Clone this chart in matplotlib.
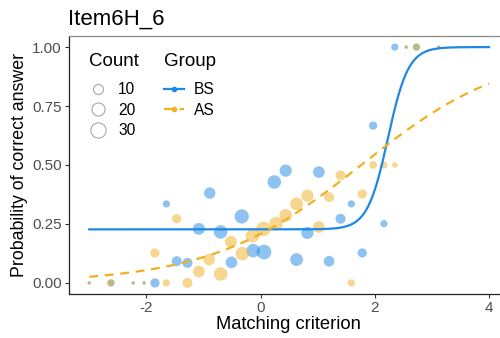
import numpy as np
import matplotlib
matplotlib.use("Agg")
import matplotlib.pyplot as plt
from matplotlib.lines import Line2D

plt.rcParams['font.family'] = ['Liberation Sans', 'DejaVu Sans']

# ---- data ----
bs_x = [-3.0, -2.62, -2.23, -2.04, -1.85, -1.65, -1.47, -1.28, -1.08, -0.89, -0.70, -0.51, -0.33, -0.13,
        0.06, 0.24, 0.44, 0.63, 0.82, 1.02, 1.20, 1.40, 1.59, 1.78, 1.97, 2.16, 2.35, 2.55, 2.73, 3.12]
bs_y = [0.0, 0.0, 0.0, 0.0, 0.0, 0.335, 0.092, 0.085, 0.229, 0.381, 0.216, 0.087, 0.282, 0.137,
        0.131, 0.428, 0.476, 0.099, 0.212, 0.470, 0.092, 0.272, 0.335, 0.127, 0.667, 0.251, 1.0, 1.0, 1.0, 1.0]
bs_n = [1, 4, 1, 1, 8, 4, 10, 10, 16, 14, 22, 15, 25, 22,
        27, 22, 17, 19, 17, 15, 12, 10, 4, 8, 6, 4, 4, 1, 4, 1]

as_x = [-3.0, -2.62, -2.23, -2.04, -1.85, -1.65, -1.47, -1.28, -1.08, -0.90, -0.70, -0.52, -0.32, -0.14,
        0.05, 0.27, 0.44, 0.63, 0.82, 1.02, 1.20, 1.40, 1.59, 1.78, 1.97, 2.16, 2.35, 2.55, 2.73, 3.12]
as_y = [0.0, 0.0, 0.0, 0.0, 0.127, 0.0, 0.272, 0.0, 0.048, 0.099, 0.038, 0.174, 0.124, 0.200,
        0.229, 0.251, 0.286, 0.335, 0.370, 0.237, 0.364, 0.456, 0.0, 0.377, 0.5, 0.5, 0.5, 1.0, 1.0, 1.0]
as_n = [1, 4, 1, 1, 8, 4, 8, 10, 15, 15, 22, 16, 22, 22,
        26, 22, 19, 19, 17, 15, 10, 10, 4, 8, 5, 4, 2, 1, 4, 1]

# fitted item curves (3PL for BS, 2PL for AS)
bs_a, bs_b, bs_c = 5.58, 2.23, 0.227
as_a, as_b, as_c = 0.76, 1.76, 0.0
curve_range = (-3.0, 4.0)

groups = ['BS', 'AS']
count_breaks = [10, 20, 30]
x_ticks = [-2, 0, 2, 4]
y_ticks = [0.0, 0.25, 0.5, 0.75, 1.0]
y_ticklabels = ['0.00', '0.25', '0.50', '0.75', '1.00']

BLUE = '#1E88E5'
ORANGE = '#F0B020'

DPI = 100
def diam_px(n):
    n = np.asarray(n, dtype=float)
    return 3.4 + 12.3 * np.sqrt(np.clip((n - 1) / 31.0, 0, None))

def s_area(n):
    return (diam_px(n) * 72.0 / DPI) ** 2

fig = plt.figure(figsize=(5.0, 3.38), dpi=DPI)
L, R, B, T = 68.7, 509.0, 294.0, 36.0
W, H = 500.0, 338.0
ax = fig.add_axes([L / W, (H - B) / H, (R - L) / W, (B - T) / H])

ax.scatter(bs_x, bs_y, s=s_area(bs_n), color=BLUE, alpha=0.5, linewidths=0, zorder=2)
ax.scatter(as_x, as_y, s=s_area(as_n), color=ORANGE, alpha=0.5, linewidths=0, zorder=2)

xs = np.linspace(curve_range[0], curve_range[1], 400)
p_bs = bs_c + (1 - bs_c) / (1 + np.exp(-bs_a * (xs - bs_b)))
p_as = as_c + (1 - as_c) / (1 + np.exp(-as_a * (xs - as_b)))
ax.plot(xs, p_bs, color=BLUE, lw=1.6, zorder=3)
ax.plot(xs, p_as, color=ORANGE, lw=1.6, ls=(0, (4, 3)), zorder=3)

ax.set_xlim(-3.36, 4.35)
ax.set_ylim(-0.047, 1.047)
ax.set_xticks(x_ticks)
ax.set_xticklabels([str(t) for t in x_ticks])
ax.set_yticks(y_ticks)
ax.set_yticklabels(y_ticklabels)
ax.tick_params(axis='both', labelsize=11, labelcolor='#4D4D4D', color='#333333',
               length=3, width=0.8, pad=2)
for sp in ['left', 'bottom']:
    ax.spines[sp].set_color('#222222')
    ax.spines[sp].set_linewidth(0.9)
for sp in ['top', 'right']:
    ax.spines[sp].set_color('#8C8C8C')
    ax.spines[sp].set_linewidth(0.9)

ax.set_xlabel('Matching criterion', fontsize=13.2, labelpad=1)
ax.set_ylabel('Probability of correct answer', fontsize=12.8, labelpad=3)
fig.text(68.5 / W, 1 - 25 / H, 'Item6H_6', fontsize=16, ha='left', va='baseline')

# legends
cnt_handles = [Line2D([], [], ls='', marker='o', markersize=float(diam_px(n)) * 72 / DPI,
                      mfc='white', mec='#A8A8A8', mew=0.8) for n in count_breaks]
leg1 = ax.legend(cnt_handles, [str(n) for n in count_breaks], title='Count',
                 loc='upper left', bbox_to_anchor=(0.045, 0.935), frameon=False,
                 fontsize=11.2, title_fontsize=13.5, handletextpad=0.7, labelspacing=0.35,
                 borderpad=0, handlelength=1.2, borderaxespad=0)
leg1._legend_box.align = 'left'
leg1._legend_box.sep = 9
ax.add_artist(leg1)

grp_handles = [Line2D([], [], color=BLUE, lw=1.6, marker='o', ms=3),
               Line2D([], [], color=ORANGE, lw=1.6, ls=(0, (4, 3)), marker='o', ms=3)]
leg2 = ax.legend(grp_handles, groups, title='Group',
                 loc='upper left', bbox_to_anchor=(0.217, 0.935), frameon=False,
                 fontsize=11.2, title_fontsize=13.5, handletextpad=0.6, labelspacing=0.35,
                 borderpad=0, handlelength=1.3, borderaxespad=0)
leg2._legend_box.align = 'left'
leg2._legend_box.sep = 9

fig.savefig('out.png', dpi=DPI)
